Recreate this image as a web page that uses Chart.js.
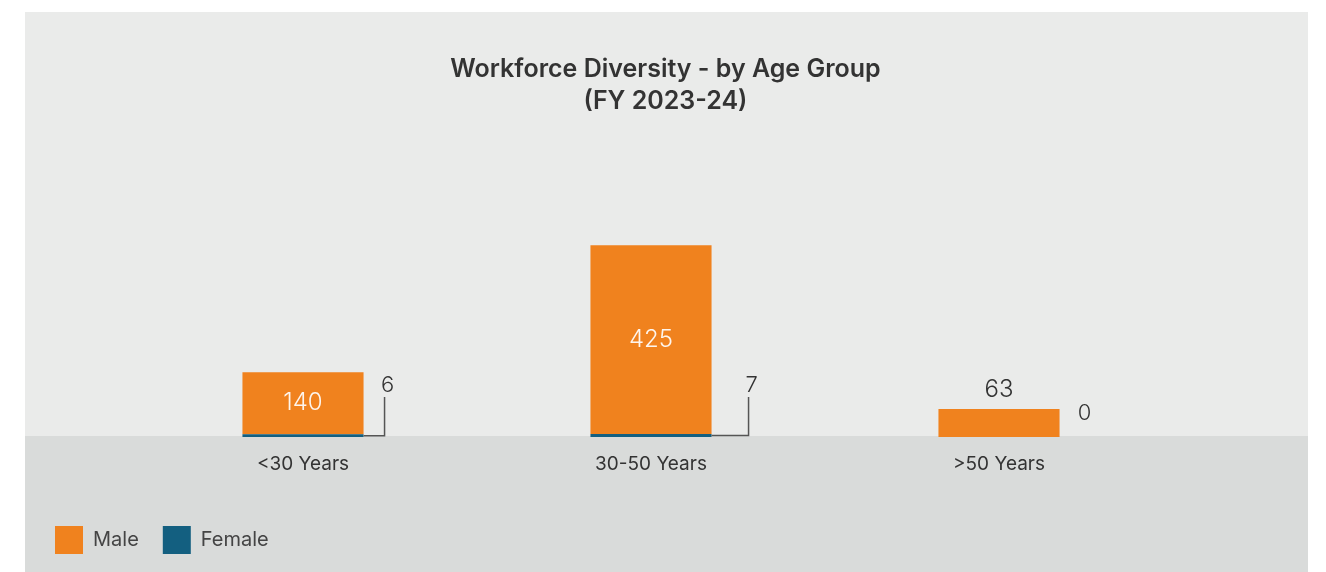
<!DOCTYPE html>
<html>
<head>
<meta charset="utf-8">
<script src="https://cdn.jsdelivr.net/npm/chart.js@4"></script>
<style>
  html, body { margin: 0; padding: 0; background: #fff; }
</style>
</head>
<body>
<canvas id="myChart" width="1326" height="572"></canvas>
<script>
const categories = ["<30 Years", "30-50 Years", ">50 Years"];
const maleValues = [140, 425, 63];
const femaleValues = [6, 7, 0];
const titleLines = ["Workforce Diversity - by Age Group", "(FY 2023-24)"];

const FONT = "Inter, 'Noto Sans', sans-serif";
const ORANGE = "#f0821e";
const TEAL = "#135f80";
// horizontal length of the leader line for each female label
const leaderDx = [21, 37, 25];

// grey panel behind the chart, darker band under the baseline
const panelBackground = {
  id: "panelBackground",
  beforeDraw(chart) {
    const ctx = chart.ctx;
    const bottom = chart.chartArea.bottom;
    ctx.save();
    ctx.fillStyle = "#fff";
    ctx.fillRect(0, 0, chart.width, chart.height);
    ctx.fillStyle = "#eaebea";
    ctx.fillRect(25, 12, 1283, chart.height - 12);
    ctx.fillStyle = "#d9dbda";
    ctx.fillRect(25, bottom - 1, 1283, chart.height - bottom + 1);
    ctx.restore();
  },
};

const barLabels = {
  id: "barLabels",
  afterDatasetsDraw(chart) {
    const ctx = chart.ctx;
    const female = chart.getDatasetMeta(0);
    const male = chart.getDatasetMeta(1);
    const base = chart.scales.y.getPixelForValue(0);
    ctx.save();
    ctx.textAlign = "center";
    ctx.textBaseline = "middle";

    male.data.forEach((bar, i) => {
      const top = bar.y;
      const bottom = bar.base;
      ctx.font = "300 24px " + FONT;
      if (bottom - top > 40) {
        ctx.fillStyle = "rgba(255,255,255,0.92)";
        ctx.fillText(maleValues[i], bar.x, (top + bottom) / 2);
      } else {
        ctx.fillStyle = "#333";
        ctx.fillText(maleValues[i], bar.x, top - 19);
      }
    });

    female.data.forEach((bar, i) => {
      const right = bar.x + bar.width / 2;
      ctx.font = "300 22px " + FONT;
      ctx.fillStyle = "#333";
      if (femaleValues[i] > 0) {
        const yMid = (bar.y + bar.base) / 2;
        const lx = right + leaderDx[i];
        ctx.strokeStyle = "#555";
        ctx.lineWidth = 1.5;
        ctx.beginPath();
        ctx.moveTo(right, yMid);
        ctx.lineTo(lx, yMid);
        ctx.lineTo(lx, base - 40);
        ctx.stroke();
        ctx.fillText(femaleValues[i], lx + 3, base - 52);
      } else {
        ctx.fillText(femaleValues[i], right + leaderDx[i], base - 24);
      }
    });
    ctx.restore();
  },
};

const ctx = document.getElementById("myChart");
const graph = new Chart(ctx, {
  type: "bar",
  data: {
    labels: categories,
    datasets: [
      {
        label: "Female",
        data: femaleValues,
        backgroundColor: TEAL,
        borderWidth: 0,
        categoryPercentage: 1,
        barPercentage: 0.348,
      },
      {
        label: "Male",
        data: maleValues,
        backgroundColor: ORANGE,
        borderWidth: 0,
        categoryPercentage: 1,
        barPercentage: 0.348,
      },
    ],
  },
  options: {
    responsive: false,
    animation: false,
    layout: {
      padding: { left: 31, right: 26, top: 0, bottom: 8 },
    },
    scales: {
      x: {
        stacked: true,
        grid: { display: false, drawTicks: false },
        border: { display: false },
        ticks: {
          color: "#333",
          padding: 16,
          font: { size: 19, family: FONT },
        },
        afterFit: (s) => {
          s.height = 65;
        },
      },
      y: {
        stacked: true,
        min: 0,
        max: 500,
        grid: { display: false, drawTicks: false },
        border: { display: false },
        ticks: { display: false },
        afterFit: (s) => {
          s.width = 98;
        },
      },
      yr: {
        type: "linear",
        position: "right",
        grid: { display: false, drawTicks: false },
        border: { display: false },
        ticks: { display: false },
        afterFit: (s) => {
          s.width = 127;
        },
      },
    },
    plugins: {
      title: {
        display: true,
        text: titleLines,
        color: "#333",
        font: { size: 25, weight: "600", family: FONT, lineHeight: 1.28 },
        padding: { top: 53, bottom: 98 },
      },
      legend: {
        position: "bottom",
        align: "start",
        reverse: true,
        labels: {
          boxWidth: 28,
          boxHeight: 28,
          padding: 24,
          color: "#444",
          font: { size: 20, family: FONT },
        },
      },
      tooltip: { enabled: false },
    },
  },
  plugins: [panelBackground, barLabels],
});
</script>
</body>
</html>
